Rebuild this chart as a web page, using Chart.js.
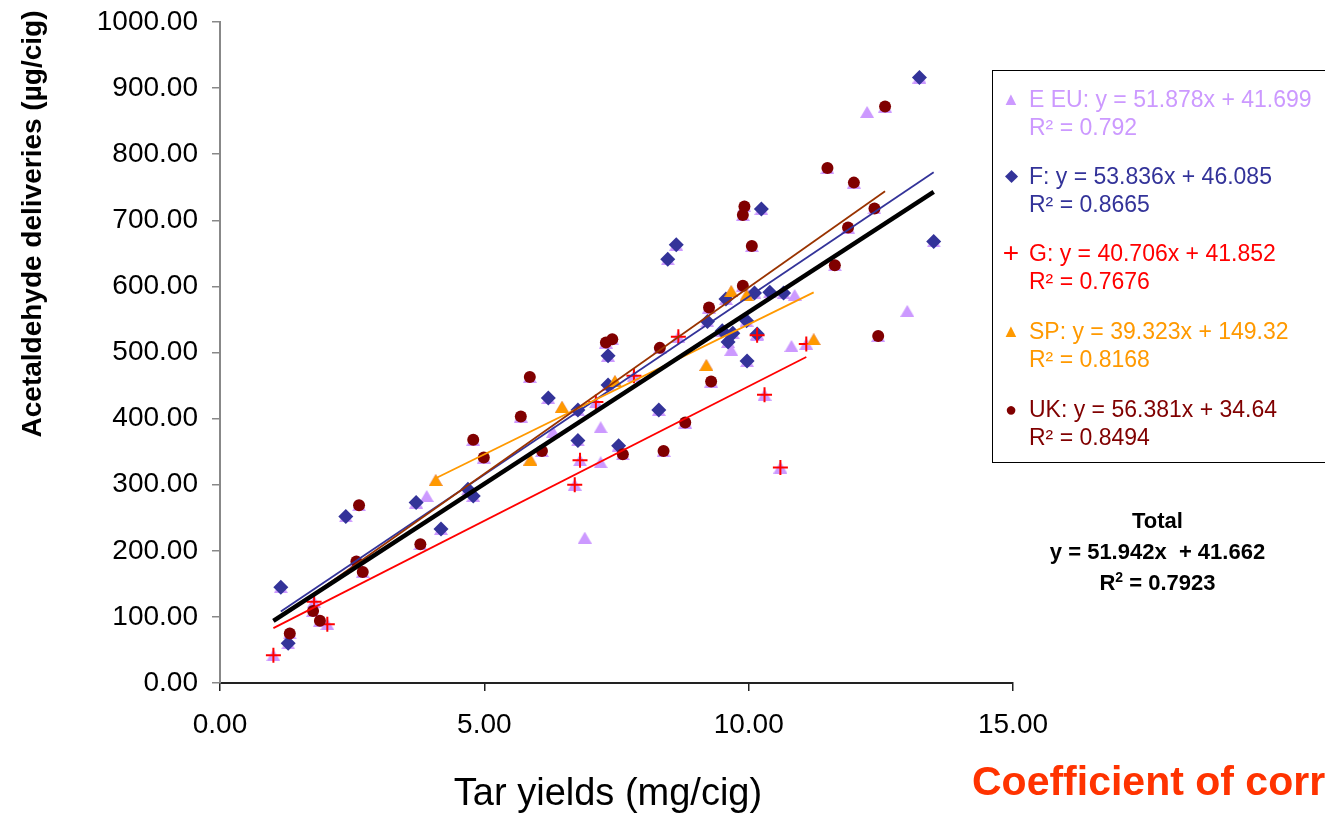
<!DOCTYPE html>
<html>
<head>
<meta charset="utf-8">
<title>Acetaldehyde vs tar</title>
<script src="https://cdn.jsdelivr.net/npm/chart.js@4.4.1/dist/chart.umd.min.js"></script>
<style>
    body { margin: 0; background: #fff; overflow: hidden; font-family: "Liberation Sans", Arial, sans-serif; }
    #wrap { position: relative; width: 1325px; height: 814px; overflow: hidden; }
    #chart { position: absolute; left: 0; top: 0; }
    #legendBox { position: absolute; left: 992px; top: 70px; width: 360px; height: 393px; border: 1px solid #000; box-sizing: border-box; }
    .entry { position: absolute; left: 1029px; font-size: 23px; line-height: 28px; white-space: nowrap; }
    .mk { position: absolute; width: 20px; left: 1001px; text-align: center; line-height: 28px; }
    #total { position: absolute; left: 1000px; width: 315px; top: 505px; text-align: center; font-weight: bold; font-size: 22px; line-height: 31px; }
    #total sup { font-size: 14px; line-height: 0; }
    #corr { position: absolute; left: 972px; top: 758px; font-weight: bold; font-size: 41px; color: #ff3300; white-space: nowrap; }
</style>
</head>
<body>
<div id="wrap">
    <canvas id="chart" width="1325" height="814"></canvas>
    <div id="legendBox"></div>
    <div id="legendItems"></div>
    <div id="total">Total<br>y = 51.942x&nbsp; + 41.662<br>R<sup>2</sup> = 0.7923</div>
    <div id="corr">Coefficient of correlation</div>
</div>
<script>
// Acetaldehyde deliveries vs tar yields, by market
const xTitle = 'Tar yields (mg/cig)';
const yTitle = 'Acetaldehyde deliveries (µg/cig)';

const eeuX = [3.91, 6.30, 6.90, 7.20, 7.20, 9.67, 10.81, 10.87, 12.24, 13.00];
const eeuY = [283, 380, 220, 387, 334, 504, 510, 587, 864, 563];

const fX = [1.15, 1.29, 2.38, 3.71, 4.18, 4.69, 4.79, 6.21, 6.77, 6.77, 7.34, 7.34, 7.54, 8.30, 8.47,
            8.63, 9.22, 9.50, 9.57, 9.61, 9.70, 9.96, 9.97, 10.11, 10.16, 10.24, 10.40, 10.66, 13.23, 13.50];
const fY = [145, 60, 252, 273, 233, 293, 283, 431, 413, 367, 495, 451, 359, 413, 641,
            663, 547, 533, 581, 516, 529, 548, 487, 590, 528, 717, 591, 590, 916, 668];

const gX = [1.01, 1.78, 2.03, 6.71, 6.81, 7.11, 7.83, 8.67, 10.16, 10.30, 10.60, 11.09];
const gY = [42, 123, 89, 300, 337, 425, 465, 524, 526, 436, 326, 513];

const spX = [4.08, 5.87, 6.47, 7.47, 9.20, 9.67, 9.96, 11.23];
const spY = [307, 338, 418, 457, 481, 593, 587, 520];

const ukX = [1.32, 1.76, 1.89, 2.58, 2.63, 2.70, 3.79, 4.79, 4.99, 5.69, 5.86, 6.09, 7.30, 7.42, 7.62, 8.32,
             8.39, 8.80, 9.25, 9.29, 9.89, 9.89, 9.92, 10.06, 11.49, 11.63, 11.88, 11.99, 12.38, 12.45, 12.58];
const ukY = [75, 109, 94, 184, 269, 168, 210, 368, 341, 403, 463, 351, 515, 520, 346, 507,
             351, 394, 568, 456, 601, 708, 721, 661, 779, 632, 689, 757, 718, 525, 872];

// fitted trend lines (slope, intercept, R²)
const seriesNames = ['E EU', 'F', 'G', 'SP', 'UK'];
const slopes = [51.878, 53.836, 40.706, 39.323, 56.381];
const intercepts = [41.699, 46.085, 41.852, 149.32, 34.64];
const rSquared = ['0.792', '0.8665', '0.7676', '0.8168', '0.8494'];
const totalSlope = 51.942;
const totalIntercept = 41.662;

const xTicks = [0, 5, 10, 15];
const yMax = 1000;

const colors = ['#cc99ff', '#333399', '#ff0000', '#ff9900', '#800000'];
const lineColors = ['#cc99ff', '#333399', '#ff0000', '#ff9900', '#993300'];

function toPoints(xs, ys) {
    return xs.map((x, i) => ({ x: x, y: ys[i] }));
}

function trend(slope, intercept, xs) {
    const lo = Math.min(...xs), hi = Math.max(...xs);
    return [{ x: lo, y: slope * lo + intercept }, { x: hi, y: slope * hi + intercept }];
}

// triangle marker centred on its bounding box
function triangleMarker(color, w, h) {
    const c = document.createElement('canvas');
    c.width = w; c.height = h;
    const g = c.getContext('2d');
    g.fillStyle = color;
    g.beginPath();
    g.moveTo(w / 2, 0);
    g.lineTo(w, h);
    g.lineTo(0, h);
    g.closePath();
    g.fill();
    return c;
}

const allX = [].concat(eeuX, fX, gX, spX, ukX);
const allY = [].concat(eeuY, fY, gY, spY, ukY);
const seriesX = [allX, fX, gX, spX, ukX];

const datasets = [
    // every sample also carries the light triangle underneath
    { label: 'all', data: toPoints(allX, allY), pointStyle: triangleMarker(colors[0], 14, 12), order: 10 },
    { label: 'F', data: toPoints(fX, fY), pointStyle: 'rectRot', pointRadius: 7.5, backgroundColor: colors[1], borderColor: colors[1], borderWidth: 0, order: 9 },
    { label: 'G', data: toPoints(gX, gY), pointStyle: 'cross', pointRadius: 7.5, borderColor: colors[2], borderWidth: 2, order: 8 },
    { label: 'SP', data: toPoints(spX, spY), pointStyle: triangleMarker(colors[3], 14, 12), order: 7 },
    { label: 'UK', data: toPoints(ukX, ukY), pointStyle: 'circle', pointRadius: 6, backgroundColor: colors[4], borderColor: colors[4], borderWidth: 0, order: 6 }
];

seriesNames.forEach((name, i) => {
    datasets.push({
        type: 'line',
        label: name + ' trend',
        data: trend(slopes[i], intercepts[i], seriesX[i]),
        borderColor: lineColors[i],
        borderWidth: 1.8,
        pointRadius: 0,
        fill: false,
        order: 5 - i
    });
});

datasets.push({
    type: 'line',
    label: 'Total trend',
    data: trend(totalSlope, totalIntercept, allX),
    borderColor: '#000',
    borderWidth: 4.5,
    pointRadius: 0,
    fill: false,
    order: -1
});

const axisTitles = {
    id: 'axisTitles',
    afterDraw(chart) {
        const ctx = chart.ctx;
        const area = chart.chartArea;
        ctx.save();
        ctx.fillStyle = '#000';
        ctx.textAlign = 'center';
        ctx.textBaseline = 'middle';
        ctx.font = '38px "Liberation Sans", Arial, sans-serif';
        ctx.fillText(xTitle, area.left + 388, area.bottom + 112);
        ctx.translate(33, area.top + 202);
        ctx.rotate(-Math.PI / 2);
        ctx.font = 'bold 28px "Liberation Sans", Arial, sans-serif';
        ctx.fillText(yTitle, 0, 0);
        ctx.restore();
    }
};

const tickFont = { family: '"Liberation Sans", Arial, sans-serif', size: 28 };

new Chart(document.getElementById('chart'), {
    type: 'scatter',
    data: { datasets: datasets },
    options: {
        responsive: false,
        animation: false,
        devicePixelRatio: 1,
        layout: { padding: { top: 22, right: 312, bottom: 0, left: 0 } },
        plugins: { legend: { display: false }, tooltip: { enabled: false } },
        elements: { point: { backgroundColor: colors[0] } },
        scales: {
            x: {
                type: 'linear',
                min: xTicks[0],
                max: xTicks[xTicks.length - 1],
                afterFit: s => { s.height = 131; },
                afterBuildTicks: s => { s.ticks = xTicks.map(v => ({ value: v })); },
                ticks: { font: tickFont, color: '#000', padding: 17, callback: v => v.toFixed(2) },
                grid: { drawOnChartArea: false, tickLength: 8, color: '#222', lineWidth: 1.5 },
                border: { color: '#222', width: 2 }
            },
            y: {
                type: 'linear',
                min: 0,
                max: yMax,
                // let the layout padding alone decide where the plot starts
                afterFit: s => { s.width = 220; s.paddingTop = 0; s.paddingBottom = 0; },
                ticks: { stepSize: 100, font: tickFont, color: '#000', padding: 14, callback: v => v.toFixed(2) },
                grid: { drawOnChartArea: false, tickLength: 8, color: '#888', lineWidth: 1.5 },
                border: { color: '#888', width: 2 }
            }
        }
    },
    plugins: [axisTitles]
});

// legend: one marker and two lines of text per market
const legendTops = [85, 162, 239, 317, 395];
const legendGlyphs = ['▲', '◆', '+', '▲', '●'];
const glyphSizes = [18, 17, 28, 18, 20];
const items = document.getElementById('legendItems');
seriesNames.forEach((name, i) => {
    const mk = document.createElement('div');
    mk.className = 'mk';
    mk.style.top = legendTops[i] + 'px';
    mk.style.color = colors[i];
    mk.style.fontSize = glyphSizes[i] + 'px';
    mk.textContent = legendGlyphs[i];
    items.appendChild(mk);

    const txt = document.createElement('div');
    txt.className = 'entry';
    txt.style.top = legendTops[i] + 'px';
    txt.style.color = colors[i];
    txt.innerHTML = name + ': y = ' + slopes[i] + 'x + ' + intercepts[i] + '<br>R² = ' + rSquared[i];
    items.appendChild(txt);
});
</script>
</body>
</html>
